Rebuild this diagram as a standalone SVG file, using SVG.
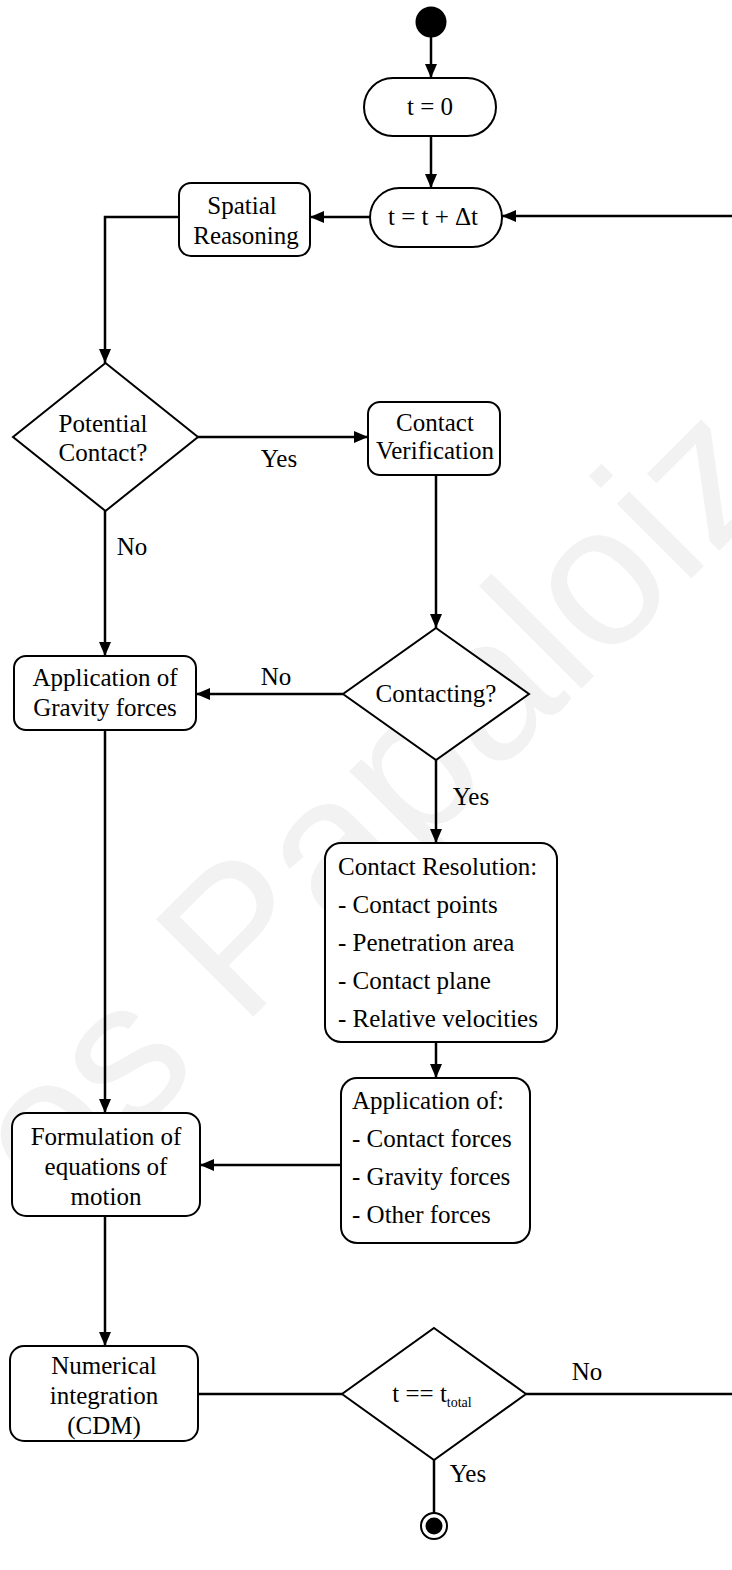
<svg xmlns="http://www.w3.org/2000/svg" width="732" height="1570" viewBox="0 0 732 1570">
<style>
.n{fill:#fff;stroke:#000;stroke-width:2}
.t{font-family:"Liberation Serif","Times New Roman",serif;font-size:25px;fill:#000}
.c{text-anchor:middle}
.e{fill:none;stroke:#000;stroke-width:2.5}
.wm{font-family:"Liberation Sans",Arial,sans-serif;font-size:200px;fill:#f2f2f2}
</style>
<defs>
<marker id="a" viewBox="0 0 14 12" refX="14" refY="6" markerWidth="14" markerHeight="12" markerUnits="userSpaceOnUse" orient="auto"><path d="M0,0L14,6L0,12z" fill="#000"/></marker>
</defs>
<rect width="732" height="1570" fill="#fff"/>
<text class="wm" transform="translate(53,1217) rotate(-45)">os Papaloiz</text>
<g id="connectors">
<line class="e" x1="431" y1="37" x2="431" y2="78" marker-end="url(#a)"/>
<line class="e" x1="431" y1="136" x2="431" y2="188" marker-end="url(#a)"/>
<line class="e" x1="370" y1="217" x2="310" y2="217" marker-end="url(#a)"/>
<path class="e" d="M179,217H105V363" marker-end="url(#a)"/>
<line class="e" x1="198" y1="437" x2="368" y2="437" marker-end="url(#a)"/>
<line class="e" x1="105" y1="511" x2="105" y2="656" marker-end="url(#a)"/>
<line class="e" x1="436" y1="475" x2="436" y2="628" marker-end="url(#a)"/>
<line class="e" x1="343" y1="694" x2="196" y2="694" marker-end="url(#a)"/>
<line class="e" x1="436" y1="760" x2="436" y2="843" marker-end="url(#a)"/>
<line class="e" x1="436" y1="1042" x2="436" y2="1078" marker-end="url(#a)"/>
<line class="e" x1="105" y1="730" x2="105" y2="1113" marker-end="url(#a)"/>
<line class="e" x1="341" y1="1165" x2="200" y2="1165" marker-end="url(#a)"/>
<line class="e" x1="105" y1="1216" x2="105" y2="1346" marker-end="url(#a)"/>
<line class="e" x1="198" y1="1394" x2="342" y2="1394"/>
<path class="e" d="M526,1394H745V216H502" marker-end="url(#a)"/>
<line class="e" x1="434" y1="1460" x2="434" y2="1513"/>
<text class="t c" x="279" y="467">Yes</text>
<text class="t c" x="132" y="555">No</text>
<text class="t c" x="276" y="685">No</text>
<text class="t c" x="471" y="805">Yes</text>
<text class="t c" x="587" y="1380">No</text>
<text class="t c" x="468" y="1482">Yes</text>
</g>
<g id="start"><circle cx="431" cy="22" r="15.5" fill="#000"/></g>
<g id="t0"><rect class="n" x="364" y="78" width="132" height="58" rx="29"/><text class="t c" x="430" y="115">t = 0</text></g>
<g id="tinc"><rect class="n" x="370" y="188" width="132" height="59" rx="29.5"/><text class="t c" x="433" y="225">t = t + Δt</text></g>
<g id="spatial"><rect class="n" x="179" y="183" width="131" height="73" rx="12"/><text class="t c" x="242" y="214">Spatial</text><text class="t c" x="246" y="244">Reasoning</text></g>
<g id="potential"><polygon class="n" points="105.5,363 198,437 105.5,511 13,437"/><text class="t c" x="103" y="432">Potential</text><text class="t c" x="103" y="461">Contact?</text></g>
<g id="verify"><rect class="n" x="368" y="402" width="132" height="73" rx="12"/><text class="t c" x="435" y="431">Contact</text><text class="t c" x="435" y="459">Verification</text></g>
<g id="contacting"><polygon class="n" points="436,628 529,694 436,760 343,694"/><text class="t c" x="436" y="702">Contacting?</text></g>
<g id="gravity"><rect class="n" x="14" y="656" width="182" height="74" rx="12"/><text class="t c" x="105" y="686">Application of</text><text class="t c" x="105" y="716">Gravity forces</text></g>
<g id="resolution"><rect class="n" x="325" y="843" width="232" height="199" rx="16"/>
<text class="t" x="338" y="875">Contact Resolution:</text>
<text class="t" x="338" y="913">- Contact points</text>
<text class="t" x="338" y="951">- Penetration area</text>
<text class="t" x="338" y="989">- Contact plane</text>
<text class="t" x="338" y="1027">- Relative velocities</text></g>
<g id="application"><rect class="n" x="341" y="1078" width="189" height="165" rx="16"/>
<text class="t" x="352" y="1109">Application of:</text>
<text class="t" x="352" y="1147">- Contact forces</text>
<text class="t" x="352" y="1185">- Gravity forces</text>
<text class="t" x="352" y="1223">- Other forces</text></g>
<g id="formulation"><rect class="n" x="12" y="1113" width="188" height="103" rx="14"/>
<text class="t c" x="106" y="1145">Formulation of</text>
<text class="t c" x="106" y="1175">equations of</text>
<text class="t c" x="106" y="1205">motion</text></g>
<g id="numerical"><rect class="n" x="10" y="1346" width="188" height="95" rx="14"/>
<text class="t c" x="104" y="1374">Numerical</text>
<text class="t c" x="104" y="1404">integration</text>
<text class="t c" x="104" y="1434">(CDM)</text></g>
<g id="ttotal"><polygon class="n" points="434,1328 526,1394 434,1460 342,1394"/><text class="t c" x="432" y="1402">t == t<tspan font-size="14" dy="5">total</tspan></text></g>
<g id="end"><circle cx="434" cy="1526" r="13" fill="#fff" stroke="#000" stroke-width="2"/><circle cx="434" cy="1526" r="8.5" fill="#000"/></g>
</svg>
